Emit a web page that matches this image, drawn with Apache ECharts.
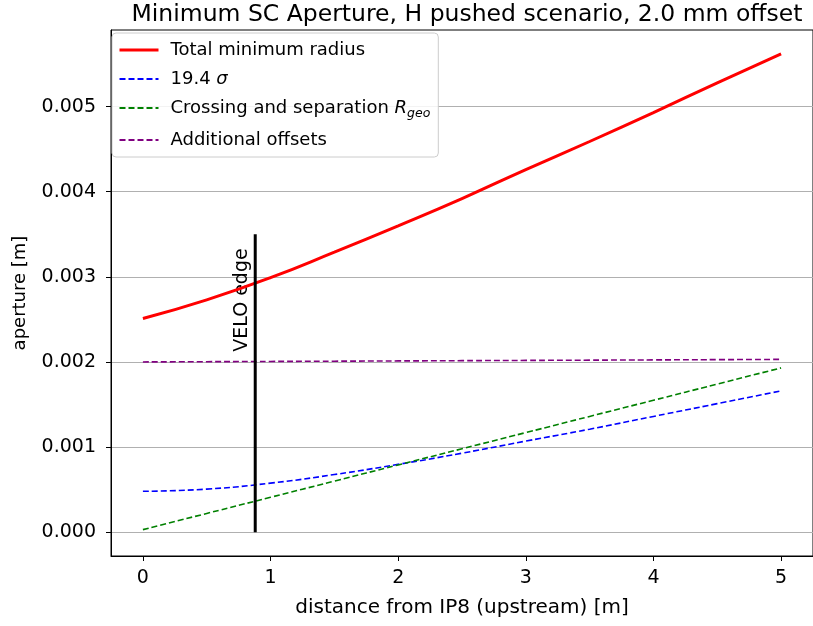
<!DOCTYPE html>
<html><head><meta charset="utf-8">
<script src="https://cdn.jsdelivr.net/npm/echarts@6/dist/echarts.min.js"></script>
<style>html,body{margin:0;padding:0;background:#fff}#c{width:813px;height:626px}</style>
</head><body><div id="c"></div>
<script>
const distances = [0, 0.5, 1, 1.5, 2, 2.5, 3, 3.5, 4, 4.5, 5];
const totalRadius = [0.00251, 0.00273, 0.00299, 0.00329, 0.00360, 0.00392, 0.00426, 0.00459, 0.00493, 0.00528, 0.00562];
const sigmaAperture = [0.00048, 0.000506, 0.000576, 0.000677, 0.000797, 0.000928, 0.00107, 0.00121, 0.00136, 0.00151, 0.00166];
const crossingSep = [0.00003, 0.00022, 0.00041, 0.00060, 0.00079, 0.00098, 0.00117, 0.00136, 0.00155, 0.00174, 0.00193];
const addOffsets = [0.00200, 0.002003, 0.002006, 0.002009, 0.002012, 0.002015, 0.002018, 0.002021, 0.002024, 0.002027, 0.00203];
const veloEdgeX = 0.88;
const veloLineY = [0, 0.0035];
const veloLabelPos = [0.78, 0.00212];
const xTicks = [0, 1, 2, 3, 4, 5];
const yTicks = [0, 0.001, 0.002, 0.003, 0.004, 0.005];
const seriesNames = ['Total minimum radius', '19.4 σ', 'Crossing and separation Rgeo', 'Additional offsets'];

const pair = arr => distances.map((d, i) => [d, arr[i]]);
const FONT = 'DejaVu Sans';
const chart = echarts.init(document.getElementById('c'));
const dashed = (name, data, color) => ({
  name, type: 'line', data: pair(data), symbol: 'none', smooth: true,
  lineStyle: { color, width: 1.6, type: [6, 3] }, itemStyle: { color }, z: 3
});
chart.setOption({
  animation: false,
  textStyle: { fontFamily: FONT },
  title: {
    text: 'Minimum SC Aperture, H pushed scenario, 2.0 mm offset',
    left: 462, top: -2, textAlign: 'center',
    textStyle: { fontFamily: FONT, fontSize: 23.5, fontWeight: 'normal', color: '#000' }
  },
  grid: { left: 111, top: 30, width: 703, height: 526, show: true, borderColor: '#000', borderWidth: 1, containLabel: false },
  legend: {
    orient: 'vertical', left: 112, top: 33, itemWidth: 39, itemHeight: 12, itemGap: 11,
    backgroundColor: 'rgba(255,255,255,0.85)', borderColor: '#ccc', borderWidth: 1, borderRadius: 4,
    padding: [8, 8, 8, 6],
    itemStyle: { opacity: 0 },
    data: [
      { name: seriesNames[0], lineStyle: { width: 3 } },
      seriesNames[1], seriesNames[2], seriesNames[3]
    ],
    formatter: function (name) {
      if (name === seriesNames[1]) return '{t|19.4 }{i|σ}';
      if (name === seriesNames[2]) return '{t|Crossing and separation }{i|R}{s|geo}';
      return '{t|' + name + '}';
    },
    textStyle: {
      fontFamily: FONT, fontSize: 18, color: '#000',
      rich: {
        t: { fontFamily: FONT, fontSize: 18, color: '#000', padding: [0, 0, 0, 7] },
        i: { fontFamily: FONT, fontSize: 18, fontStyle: 'italic', color: '#000' },
        s: { fontFamily: FONT, fontSize: 12.5, fontStyle: 'italic', color: '#000', padding: [11, 0, 0, 0] }
      }
    }
  },
  xAxis: {
    type: 'value', min: -0.25, max: 5.25,
    name: 'distance from IP8 (upstream) [m]', nameLocation: 'middle', nameGap: 42,
    nameTextStyle: { fontFamily: FONT, fontSize: 20, color: '#000' },
    axisLine: { show: true, onZero: false, lineStyle: { color: '#000', width: 1 } },
    axisTick: { show: true, length: 5, customValues: xTicks, lineStyle: { color: '#000' } },
    axisLabel: { customValues: xTicks, fontFamily: FONT, fontSize: 19, color: '#000', margin: 13 },
    splitLine: { show: false }
  },
  yAxis: {
    type: 'value', min: -0.00028, max: 0.0059,
    name: 'aperture [m]', nameLocation: 'middle', nameGap: 82, nameRotate: 90,
    nameTextStyle: { fontFamily: FONT, fontSize: 18, color: '#000' },
    axisLine: { show: true, onZero: false, lineStyle: { color: '#000', width: 1 } },
    axisTick: { show: true, length: 5, customValues: yTicks, lineStyle: { color: '#000' } },
    axisLabel: { customValues: yTicks, fontFamily: FONT, fontSize: 19, color: '#000', margin: 15,
      formatter: v => v.toFixed(3) },
    splitLine: { show: true, lineStyle: { color: '#b0b0b0', width: 1 } }
  },
  series: [
    { name: seriesNames[0], type: 'line', data: pair(totalRadius), symbol: 'none', smooth: true,
      lineStyle: { color: '#ff0000', width: 3 }, itemStyle: { color: '#ff0000' }, z: 4 },
    dashed(seriesNames[1], sigmaAperture, '#0000ff'),
    dashed(seriesNames[2], crossingSep, '#008000'),
    dashed(seriesNames[3], addOffsets, '#800080'),
    { name: 'VELO', type: 'line', data: veloLineY.map(y => [veloEdgeX, y]), symbol: 'none',
      lineStyle: { color: '#000', width: 3 }, z: 5 }
  ]
});
const p = chart.convertToPixel({ gridIndex: 0 }, veloLabelPos);
chart.setOption({
  graphic: [{ type: 'text', x: p[0], y: p[1], rotation: Math.PI / 2,
    style: { text: 'VELO edge', fontFamily: FONT, fontSize: 19, fill: '#000', textAlign: 'left', textVerticalAlign: 'middle' } }]
});
</script></body></html>
